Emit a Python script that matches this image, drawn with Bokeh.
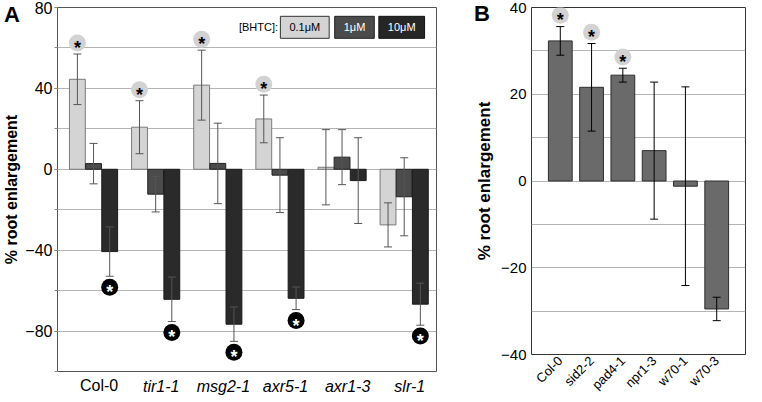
import numpy as np
from bokeh.plotting import figure
from bokeh.layouts import row, column
from bokeh.models import (ColumnDataSource, FixedTicker, Range1d, FactorRange, Label,
                          LinearAxis, Div)
from bokeh.core.properties import value
from bokeh.embed import file_html
from bokeh.resources import INLINE

FONT = "Liberation Sans"

# ---------------- Panel A data ----------------
genotypes_a = ["Col-0", "tir1-1", "msg2-1", "axr5-1", "axr1-3", "slr-1"]
conc_labels = ["0.1\u03bcM", "1\u03bcM", "10\u03bcM"]
vals_01 = [44.5, 20.8, 41.6, 24.9, 1.0, -27.5]
err_01 = [12.5, 13.1, 17.3, 11.8, 18.6, 10.9]
vals_1 = [2.8, -12.3, 2.9, -2.9, 6.0, -13.6]
err_1 = [10.0, 8.8, 19.9, 18.5, 13.6, 19.3]
vals_10 = [-40.7, -64.3, -76.6, -63.8, -5.6, -66.7]
err_10 = [12.2, 11.0, 8.5, 5.6, 21.2, 10.4]
sig_01 = [True, True, True, True, False, False]
sig_10 = [True, True, True, True, False, True]
y_ticks_a = [80, 40, 0, -40, -80]

# ---------------- Panel B data ----------------
genotypes_b = ["Col-0", "sid2-2", "pad4-1", "npr1-3", "w70-1", "w70-3"]
vals_b = [32.3, 21.6, 24.4, 7.0, -1.2, -29.5]
err_b = [3.3, 10.1, 1.6, 15.8, 22.9, 2.7]
sig_b = [True, True, True, False, False, False]
y_ticks_b = [40, 20, 0, -20, -40]

# ================= Panel A =================
pa = figure(width=472, height=397, x_range=Range1d(-0.58, 5.52), y_range=Range1d(-100, 80),
            output_backend="svg", toolbar_location=None,
            min_border_left=45, min_border_right=36, min_border_top=7, min_border_bottom=20)
pa.outline_line_color = "#555555"
pa.outline_line_width = 1
pa.xgrid.visible = False
pa.ygrid.ticker = FixedTicker(ticks=list(range(-100, 81, 20)))
pa.ygrid.grid_line_color = "#b5b5b5"
pa.yaxis.ticker = FixedTicker(ticks=y_ticks_a, minor_ticks=list(range(-100, 81, 20)))
pa.yaxis.axis_line_color = None
pa.yaxis.major_tick_in = 0
pa.yaxis.major_tick_out = 3
pa.yaxis.minor_tick_in = 0
pa.yaxis.minor_tick_out = 3
pa.yaxis.major_tick_line_color = "#888888"
pa.yaxis.minor_tick_line_color = "#888888"
pa.yaxis.major_label_text_font = FONT
pa.yaxis.major_label_text_font_size = "16px"
pa.yaxis.major_label_text_color = "black"
pa.yaxis.major_label_standoff = 2
pa.yaxis.axis_label = "% root enlargement"
pa.yaxis.axis_label_text_font = FONT
pa.yaxis.axis_label_text_font_size = "16px"
pa.yaxis.axis_label_text_font_style = "bold"
pa.yaxis.axis_label_text_color = "black"
pa.yaxis.axis_label_standoff = 2

idx = np.arange(len(genotypes_a))
label_shift = 0.09  # category text sits slightly right of the group centre
tick_pos = [float(i) + label_shift for i in idx]
# category axes: Col-0 upright, mutants italic (second axis overlapped onto the first)
ax_norm = pa.xaxis[0]
ax_norm.ticker = FixedTicker(ticks=tick_pos[:1])
ax_norm.major_label_overrides = {tick_pos[0]: genotypes_a[0]}
ax_ital = LinearAxis(ticker=FixedTicker(ticks=tick_pos[1:]),
                     major_label_overrides={t: g for t, g in zip(tick_pos[1:], genotypes_a[1:])})
pa.add_layout(ax_ital, "below")
for ax, st, style in ((ax_norm, 5, "normal"), (ax_ital, -19, "italic")):
    ax.axis_line_color = None
    ax.major_tick_line_color = None
    ax.minor_tick_line_color = None
    ax.major_tick_out = 0
    ax.major_tick_in = 0
    ax.minor_tick_out = 0
    ax.minor_tick_in = 0
    ax.major_label_standoff = st
    ax.major_label_text_font = FONT
    ax.major_label_text_font_size = "16px"
    ax.major_label_text_font_style = style
    ax.major_label_text_color = "black"

offsets = [-0.26, 0.0, 0.26]
series = [
    (vals_01, err_01, "#d4d4d4", "#7a7a7a"),
    (vals_1, err_1, "#4b4b4b", "#222222"),
    (vals_10, err_10, "#2a2a2a", "#1a1a1a"),
]
for (v, e, fc, lc), off in zip(series, offsets):
    pa.vbar(x=idx + off, top=v, bottom=0, width=0.255, fill_color=fc, line_color=lc, line_width=1)
for (v, e, fc, lc), off in zip(series, offsets):
    v = np.array(v); e = np.array(e)
    x = idx + off
    pa.segment(x0=x, y0=v - e, x1=x, y1=v + e, line_color="#555555", line_width=1)
    pa.scatter(x=np.concatenate([x, x]), y=np.concatenate([v + e, v - e]), marker="dash",
               size=8, line_color="#555555", line_width=1)

v01 = np.array(vals_01); e01 = np.array(err_01)
m = np.array(sig_01)
xs = (idx + offsets[0])[m]
ys = (v01 + e01)[m] + 5.4
pa.scatter(x=xs, y=ys, marker="circle", size=17, fill_color="#d2d2d2", line_color=None)
pa.text(x=xs, y=ys, text=["*"] * len(xs), text_align="center", text_baseline="middle",
        text_font=value(FONT), text_font_size="18px", text_font_style="bold", text_color="black",
        y_offset=5)
v10 = np.array(vals_10); e10 = np.array(err_10)
m = np.array(sig_10)
xs = (idx + offsets[2])[m]
ys = (v10 - e10)[m] - 5.4
pa.scatter(x=xs, y=ys, marker="circle", size=17, fill_color="black", line_color=None)
pa.text(x=xs, y=ys, text=["*"] * len(xs), text_align="center", text_baseline="middle",
        text_font=value(FONT), text_font_size="18px", text_font_style="bold", text_color="white",
        y_offset=5)

pa.add_layout(Label(x=2.97, y=70.2, text="[BHTC]:", text_align="right", text_baseline="middle",
                    text_font=FONT, text_font_size="11px", text_color="black"))
leg_x = [3.40, 4.20, 4.96]
leg_style = [("#d4d4d4", "black", "#333333"), ("#4b4b4b", "white", "#222222"), ("#262626", "white", "#111111")]
for lx, txt, (bg, tc, bc) in zip(leg_x, conc_labels, leg_style):
    pa.add_layout(Label(x=lx, y=70.2, text=txt, text_align="center", text_baseline="middle",
                        text_font=FONT, text_font_size="11px", text_color=tc,
                        background_fill_color=bg, border_line_color=bc, border_line_width=1,
                        padding=(9, 5)))

# ================= Panel B =================
pb = figure(width=274, height=400, x_range=FactorRange(*genotypes_b, range_padding=0.14),
            y_range=Range1d(-40, 40), output_backend="svg", toolbar_location=None,
            min_border_left=45, min_border_right=1, min_border_top=7, min_border_bottom=44)
pb.outline_line_color = "#333333"
pb.outline_line_width = 1
pb.xgrid.visible = False
pb.ygrid.ticker = FixedTicker(ticks=list(range(-40, 41, 10)))
pb.ygrid.grid_line_color = "#b5b5b5"
pb.yaxis.ticker = FixedTicker(ticks=y_ticks_b)
pb.yaxis.axis_line_color = None
pb.yaxis.major_tick_line_color = None
pb.yaxis.major_tick_out = 0
pb.yaxis.major_tick_in = 0
pb.yaxis.major_label_text_font = FONT
pb.yaxis.major_label_text_font_size = "15px"
pb.yaxis.major_label_text_color = "black"
pb.yaxis.major_label_standoff = 5
pb.yaxis.axis_label = "% root enlargement"
pb.yaxis.axis_label_text_font = FONT
pb.yaxis.axis_label_text_font_size = "17px"
pb.yaxis.axis_label_text_font_style = "bold"
pb.yaxis.axis_label_text_color = "black"
pb.yaxis.axis_label_standoff = 4
pb.xaxis.axis_line_color = None
pb.xaxis.major_tick_line_color = None
pb.xaxis.major_tick_out = 0
pb.xaxis.major_tick_in = 0
pb.xaxis.major_label_orientation = np.pi / 4
pb.xaxis.major_label_text_font = FONT
pb.xaxis.major_label_text_font_size = "13px"
pb.xaxis.major_label_text_color = "black"
pb.xaxis.major_label_standoff = 4

vb = np.array(vals_b); eb = np.array(err_b)
pb.vbar(x=genotypes_b, top=vals_b, bottom=0, width=0.76, fill_color="#6a6a6a", line_color="#2e2e2e", line_width=1)
pb.segment(x0=genotypes_b, y0=vb - eb, x1=genotypes_b, y1=vb + eb, line_color="black", line_width=1)
pb.scatter(x=genotypes_b + genotypes_b, y=np.concatenate([vb + eb, vb - eb]), marker="dash",
           size=8, line_color="black", line_width=1)
mb = np.array(sig_b)
xsb = [g for g, s in zip(genotypes_b, sig_b) if s]
ysb = (vb + eb)[mb] + 2.6
pb.scatter(x=xsb, y=ysb, marker="circle", size=17, fill_color="#d2d2d2", line_color=None)
pb.text(x=xsb, y=ysb, text=["*"] * len(xsb), text_align="center", text_baseline="middle",
        text_font=value(FONT), text_font_size="18px", text_font_style="bold", text_color="black",
        y_offset=5)

letter_css = {"position": "absolute", "font-family": FONT, "font-weight": "bold",
              "font-size": "22px", "line-height": "22px", "color": "black", "margin": "0"}
div_a = Div(text="A", styles=dict(letter_css, left="4px", top="4px"))
div_b = Div(text="B", styles=dict(letter_css, left="474px", top="3px"))

layout = row(column(pa), column(pb), div_a, div_b)
open("out.html", "w").write(file_html(layout, INLINE))
